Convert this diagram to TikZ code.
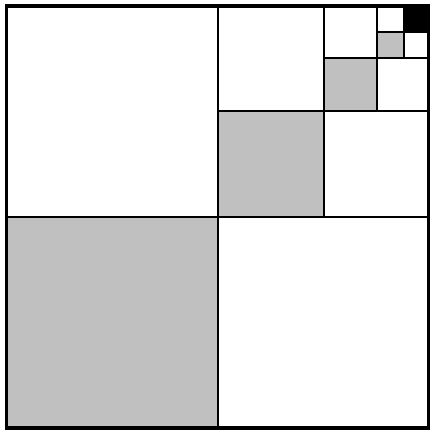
\documentclass[tikz,border=0pt]{standalone}
\definecolor{cellgray}{RGB}{192,192,192}
\begin{document}
\begin{tikzpicture}[x=1pt,y=-1pt,
  inner/.style={line width=2.6pt,line cap=rect},
  outer/.style={line width=3.8pt},
  grayfill/.style={fill=cellgray},
  blackfill/.style={fill=black}]
\useasboundingbox (0,0) rectangle (430,430);
\fill[white] (0,0) rectangle (430,430);
% fills
\fill[grayfill] (6.5,217) rectangle (218,428);
\fill[grayfill] (218,111) rectangle (324,217);
\fill[grayfill] (324,58) rectangle (377,111);
\fill[grayfill] (377,32) rectangle (404,58);
\fill[blackfill] (404,6) rectangle (428,32);
% inner lines
\draw[inner] (218,6) -- (218,428);
\draw[inner] (6.5,217) -- (428,217);
\draw[inner] (324,6) -- (324,217);
\draw[inner] (218,111) -- (428,111);
\draw[inner] (377,6) -- (377,111);
\draw[inner] (324,58) -- (428,58);
\draw[inner] (404,6) -- (404,58);
\draw[inner] (377,32) -- (428,32);
% outer border
\draw[outer] (6.5,6) rectangle (428.5,428);
\end{tikzpicture}
\end{document}
